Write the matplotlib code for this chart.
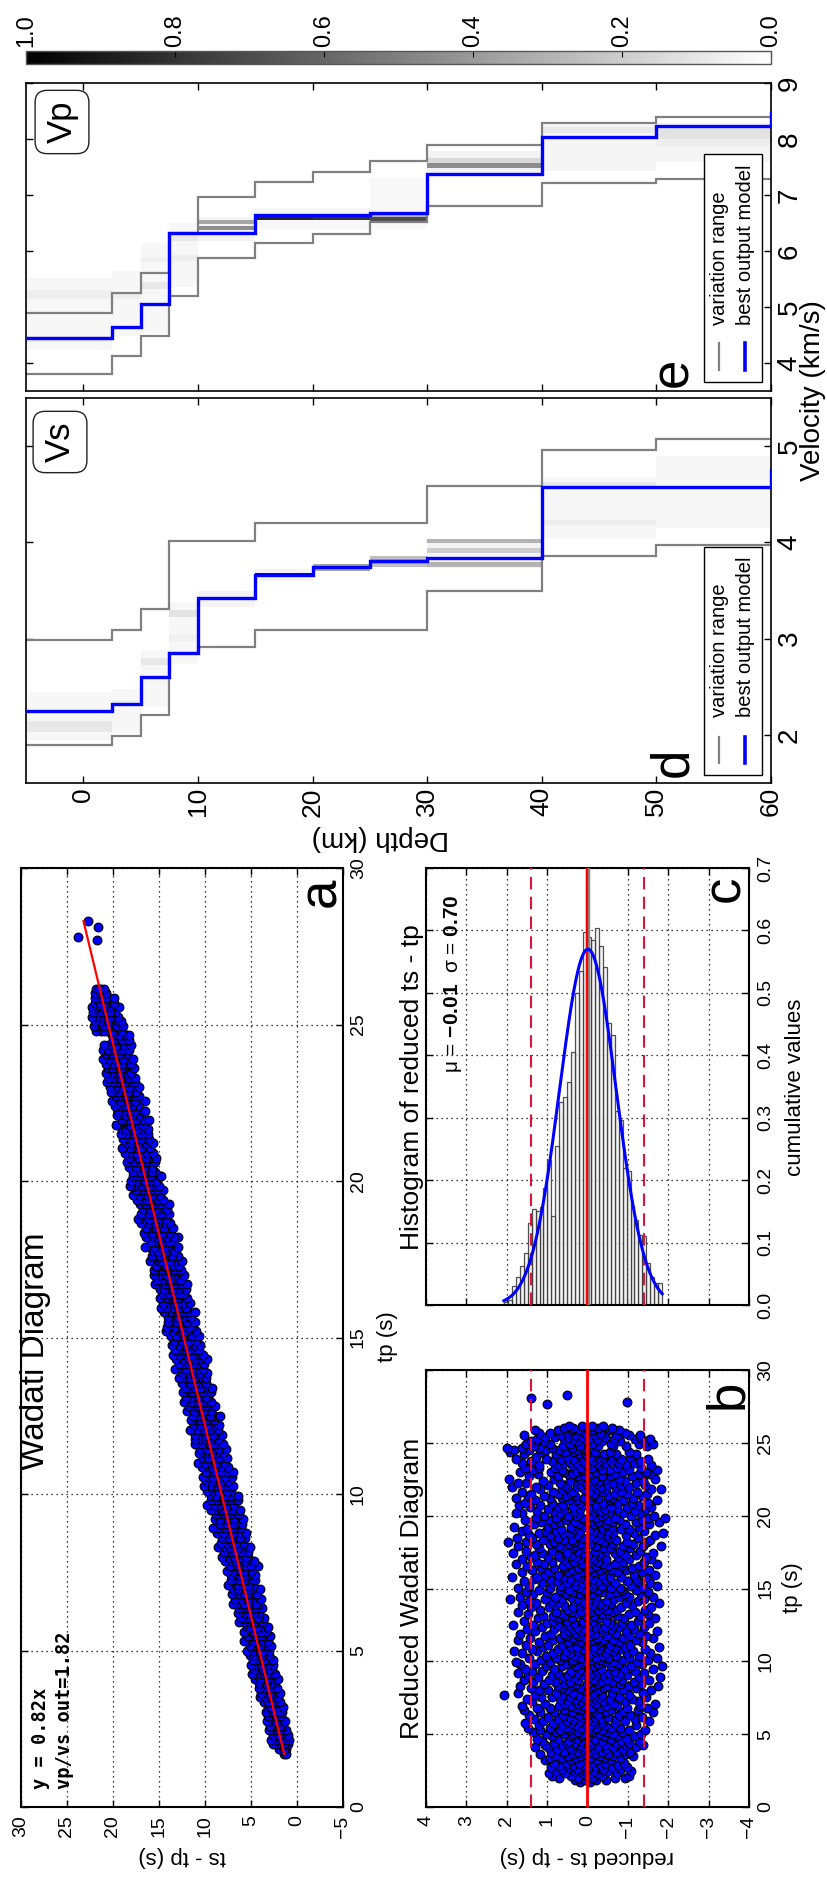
import numpy as np
import matplotlib
matplotlib.use("Agg")
import matplotlib.pyplot as plt
from matplotlib.colors import Normalize
from matplotlib.cm import ScalarMappable
from matplotlib.patches import Rectangle
from matplotlib.lines import Line2D

plt.rcParams['font.family'] = ['Liberation Sans', 'DejaVu Sans']
plt.rcParams['mathtext.fontset'] = 'custom'
plt.rcParams['mathtext.rm'] = 'Liberation Sans'
plt.rcParams['mathtext.bf'] = 'Liberation Sans:bold'

# ------------------------------------------------------------------ data
SLOPE = 0.82
VPVS = 1.82
MU, SIGMA = -0.01, 0.70

# (tp, reduced ts-tp values observed at that tp)
wadati_rows = [
    (1.70, [-0.05, 0.18]),
    (1.85, [0.32, -0.22, -0.46, 0.05]),
    (2.00, [0.71, -0.12, 0.24, -0.68, -0.93]),
    (2.15, [0.88, 0.41, -0.35, 0.02, -1.02]),
    (2.30, [0.12, 0.55, -0.27, -0.74, 0.96, -0.08]),
    (2.45, [-0.51, 0.33, 0.78, -0.15, -1.08, 0.07]),
    (2.60, [0.62, 0.04, -0.39, -0.83, 0.27]),
    (2.75, [-0.19, 0.45, -0.61, 0.91, -0.02, -0.97]),
    (2.90, [0.36, -0.33, 0.09, -0.76, 0.68]),
    (3.05, [-0.44, 0.21, 0.83, -0.11, -0.91, 0.52]),
    (3.20, [0.02, -0.58, 0.41, -0.24, 1.05]),
    (3.35, [0.64, -0.07, -0.83, 0.28, -0.42, 0.93]),
    (3.50, [-0.31, 0.17, -1.12, 0.49, 0.81, -0.64]),
    (3.65, [0.35, -0.18, 1.18, -0.52, 0.06, -0.95]),
    (3.80, [-0.73, 0.58, -0.03, 0.24, -0.36, 0.91, -1.05]),
    (3.95, [0.12, -0.47, 0.76, -0.88, 0.39, -0.16]),
    (4.10, [0.97, -0.25, 0.43, -1.21, 0.08, -0.62, 1.31]),
    (4.25, [-0.09, 0.62, -0.44, 0.19, -0.95, 1.06, -1.38]),
    (4.40, [0.31, -0.71, 0.84, -0.12, 0.52, -1.04]),
    (4.55, [-0.36, 0.15, 1.12, -0.83, 0.47, -0.05, -1.28]),
    (4.70, [0.73, -0.19, -0.58, 0.26, 1.25, -0.97]),
    (4.85, [-0.02, 0.41, -1.16, 0.88, -0.41, 0.14, -0.73]),
    (5.00, [0.59, -0.29, 1.03, -0.64, 0.11, -1.33, 0.36]),
    (5.15, [-0.12, 0.78, -0.49, 0.24, -0.86, 1.36]),
    (5.30, [0.45, -0.07, -1.02, 0.67, -0.35, 1.18, -1.42]),
    (5.45, [-0.58, 0.16, 0.94, -0.21, 0.51, -0.81, 1.48]),
    (5.60, [0.29, -0.44, 1.21, -0.09, -1.19, 0.63]),
    (5.75, [-0.26, 0.85, 0.07, -0.68, 1.55, -0.37, 0.41]),
    (5.90, [0.51, -0.94, -0.15, 1.09, 0.19, -1.52]),
    (6.05, [-0.33, 0.36, -0.71, 1.32, -0.02, 0.74, -1.18]),
    (6.20, [0.13, -0.52, 0.98, -1.36, 0.46, -0.18]),
    (6.35, [-0.78, 1.44, 0.22, -0.27, 0.61, -1.05, 0.01]),
    (6.50, [0.39, -0.13, -0.89, 1.17, -0.46, 0.83, -1.62]),
    (6.65, [-0.06, 0.57, -0.58, 1.58, 0.18, -1.24]),
    (6.80, [0.92, -0.31, 0.27, -0.97, -0.10, 1.26, -1.47]),
    (6.95, [-0.45, 0.08, 0.71, -1.31, 0.42, -0.74, 1.63]),
    (7.10, [0.24, -0.21, 1.05, -0.63, -1.68, 0.55]),
    (7.25, [-0.12, 0.48, -0.94, 0.16, 1.37, -0.39, -1.26]),
    (7.40, [0.67, -0.56, 0.03, 1.51, -1.09, 0.31, -0.22]),
    (7.55, [-0.29, 0.87, -0.77, 0.12, -1.45, 1.14, 0.44]),
    (7.70, [2.08, 0.21, -0.36, 0.62, -1.02, -0.05, 1.29]),
    (7.85, [-0.61, 0.35, 1.72, -0.16, -1.38, 0.78]),
    (8.00, [0.09, -0.87, 0.51, -0.28, 1.19, -1.57, 0.97]),
    (8.15, [-0.42, 1.41, 0.18, -0.69, 0.63, -1.21, -0.05]),
    (8.30, [0.74, -0.14, -1.03, 0.36, 1.66, -0.49, -1.74]),
    (8.45, [-0.25, 0.55, 1.08, -0.81, 0.02, -1.33, 0.28]),
    (8.60, [0.43, -0.60, 1.35, -0.07, -1.14, 0.81, -0.33]),
    (8.75, [-0.17, 0.96, -0.48, 0.24, -1.52, 1.58, -0.86]),
    (8.90, [0.61, -0.02, -0.74, 1.23, -1.27, 0.33, -1.79]),
    (9.05, [-0.38, 0.14, 0.88, -0.99, 1.47, -0.21, 0.49]),
    (9.20, [0.27, -0.53, 1.71, -0.11, -1.41, 0.72, -0.80]),
    (9.35, [-0.66, 0.41, -0.23, 1.12, 0.05, -1.18, 1.38]),
    (9.50, [0.19, -0.93, 0.83, -0.34, 1.55, -1.61, -0.04]),
    (9.65, [-0.15, 0.64, -0.58, 0.28, -1.07, 1.02, -1.84]),
    (9.80, [0.52, -0.27, 1.29, -0.76, 0.11, -1.36, 1.66]),
    (9.95, [-0.44, 0.06, 0.93, -1.22, 0.38, -0.63, 1.78]),
    (10.10, [0.35, -0.12, -0.88, 1.16, -1.49, 0.69, -0.31]),
    (10.25, [-0.21, 0.79, -0.52, 0.17, 1.44, -1.03, -1.71]),
    (10.40, [0.58, -0.39, 1.03, -0.02, -1.28, 0.31, -0.71]),
    (10.55, [-0.08, 0.44, -0.97, 1.62, -0.46, 0.86, -1.56]),
    (10.70, [0.23, -0.64, 1.25, -0.19, -1.13, 0.54, 1.81]),
    (10.85, [-0.51, 0.12, 0.73, -0.83, 1.38, -0.29, -1.42]),
    (11.00, [0.41, -0.15, -0.68, 1.09, -1.77, 0.26, -0.94]),
    (11.15, [-0.33, 0.97, 0.04, -1.06, 1.53, -0.56, 0.63]),
    (11.30, [0.16, -0.79, 1.21, -0.37, 0.48, -1.34, -0.01]),
    (11.45, [-0.62, 0.32, -0.13, 0.86, -1.19, 1.71, -0.41]),
    (11.60, [0.69, -0.24, 1.42, -0.87, 0.07, -1.61, 0.37]),
    (11.75, [-0.06, 0.53, -0.49, 1.06, -1.02, 0.21, -1.45]),
    (11.90, [0.28, -0.71, 0.91, -0.18, 1.66, -1.28, 0.58]),
    (12.05, [-0.42, 0.17, -0.95, 1.29, 0.45, -0.07, -1.72]),
    (12.20, [0.82, -0.33, 0.09, -1.15, 1.51, -0.58, 0.35]),
    (12.35, [-0.19, 0.62, -0.77, 0.26, -1.39, 1.12, -0.44]),
    (12.50, [0.47, -0.03, 1.36, -0.62, 0.74, -1.08, 1.84]),
    (12.65, [-0.55, 0.33, -0.21, 1.01, -1.53, 0.14, -0.86]),
    (12.80, [0.11, -0.47, 0.86, -1.24, 1.58, -0.14, 0.51]),
    (12.95, [-0.28, 0.71, -0.91, 0.38, 1.23, -1.66, -0.02]),
    (13.10, [0.59, -0.16, 1.11, -0.73, 0.04, -1.31, 0.85]),
    (13.25, [-0.37, 0.24, -1.04, 1.47, -0.53, 0.66, -1.49]),
    (13.40, [0.15, -0.62, 0.79, -0.09, 1.73, -1.17, 0.42]),
    (13.55, [-0.74, 0.48, -0.26, 1.18, 0.02, -1.42, -0.48]),
    (13.70, [0.36, -0.08, -0.84, 0.95, -1.58, 1.39, -0.35]),
    (13.85, [-0.13, 0.57, -0.43, 0.19, -1.11, 1.61, 0.81]),
    (14.00, [0.72, -0.31, 1.27, -0.96, 0.09, -1.76, -0.57]),
    (14.15, [-0.49, 0.13, 0.88, -0.18, 1.45, -1.25, 0.34]),
    (14.30, [0.27, -0.66, -0.03, 1.06, -1.41, 0.62, 1.93]),
    (14.45, [-0.22, 0.81, -0.79, 0.41, 1.67, -1.03, -1.62]),
    (14.60, [0.54, -0.11, -0.54, 1.34, -0.93, 0.18, -1.33]),
    (14.75, [-0.35, 0.39, 1.01, -0.72, 0.03, -1.51, 1.52]),
    (14.90, [0.08, -0.86, 0.68, -0.25, 1.19, -1.19, 0.46]),
    (15.05, [-0.58, 0.22, -0.12, 0.93, -1.38, 1.71, -0.81]),
    (15.20, [0.65, -0.37, 1.46, -0.03, -1.07, 0.31, -1.73]),
    (15.35, [-0.16, 0.51, -0.69, 1.13, 0.14, -1.55, 0.87]),
    (15.50, [0.32, -0.26, -0.98, 0.76, 1.58, -0.47, -1.26]),
    (15.65, [-0.44, 0.94, 0.05, -1.21, 0.43, -0.13, 1.33]),
    (15.80, [0.18, -0.55, 1.24, -0.82, 0.61, -1.46, 1.87]),
    (15.95, [-0.07, 0.73, -0.36, 0.27, -1.16, 1.05, -1.68]),
    (16.10, [0.49, -0.74, 0.96, -0.17, 1.62, -1.34, 0.12]),
    (16.25, [-0.31, 0.36, -0.59, 1.37, -0.95, 0.02, -1.52]),
    (16.40, [0.83, -0.09, 0.23, -1.09, 1.16, -0.43, 0.58]),
    (16.55, [-0.52, 0.61, -0.21, 1.49, 0.08, -1.28, -0.86]),
    (16.70, [0.14, -0.38, 1.08, -0.67, 0.45, -1.71, 1.76]),
    (16.85, [-0.26, 0.87, -0.88, 0.34, -0.04, 1.25, -1.39]),
    (17.00, [0.57, -0.45, 1.63, -1.02, 0.19, -0.16, -1.58]),
    (17.15, [-0.11, 0.29, -0.76, 0.99, -1.44, 0.68, 1.41]),
    (17.30, [0.38, -0.92, 0.74, -0.28, 1.31, -1.19, -0.01]),
    (17.45, [-0.67, 0.11, -0.34, 1.12, 0.52, -1.63, 1.84]),
    (17.60, [0.25, -0.19, 1.53, -0.81, 0.89, -1.31, -0.47]),
    (17.75, [-0.39, 0.66, -1.06, 0.07, 1.19, -0.58, 0.37]),
    (17.90, [0.71, -0.22, 0.31, -1.37, 1.71, -0.89, -1.81]),
    (18.05, [-0.05, 0.46, -0.63, 1.28, -1.12, 0.16, 0.93]),
    (18.20, [1.98, 0.33, -0.41, 0.84, -0.97, 1.52, -1.47]),
    (18.35, [-0.29, 0.58, 0.02, -0.71, 1.09, -1.56, 0.39]),
    (18.50, [0.12, -0.53, 1.37, -0.18, 0.72, -1.24, 1.74]),
    (18.65, [-0.48, 0.93, -0.95, 0.23, -0.12, 1.45, -1.68]),
    (18.80, [0.44, -0.31, 0.61, -1.16, 1.21, -0.64, -1.86]),
    (18.95, [-0.17, 0.18, 1.04, -0.52, -1.41, 0.79, 1.63]),
    (19.10, [0.66, -0.84, -0.06, 1.49, -1.03, 0.35, -0.37]),
    (19.25, [-0.35, 0.42, -1.27, 0.97, 0.09, -0.61, 1.82]),
    (19.40, [0.21, -0.15, 0.83, -0.92, 1.32, -1.53, -0.45]),
    (19.55, [-0.62, 0.68, -0.27, 1.14, 0.31, -1.19, -1.77]),
    (19.70, [0.05, -0.49, 1.56, -0.79, 0.54, -1.35, 0.96]),
    (19.85, [-0.21, 0.77, -0.68, 0.14, -1.49, 1.27, -1.92]),
    (20.00, [0.48, -0.36, 1.07, -1.08, 0.26, -0.09, -1.64]),
    (20.15, [-0.44, 0.22, -0.87, 1.61, 0.67, -1.29, 1.78]),
    (20.30, [0.34, -0.13, 1.25, -0.56, -1.17, 0.85, -0.33]),
    (20.45, [-0.09, 0.57, -0.43, 0.99, -1.44, 0.18, -0.74]),
    (20.60, [0.73, -0.58, 0.36, -0.97, 1.43, -1.58, -0.04]),
    (20.75, [-0.31, 0.12, 1.18, -0.21, -1.26, 0.61, 1.69]),
    (20.90, [0.19, -0.76, 0.88, -0.39, 1.54, -1.09, -1.51]),
    (21.05, [-0.56, 0.45, -0.06, 1.31, -0.89, 0.26, -1.72]),
    (21.20, [0.62, -0.27, -1.13, 0.94, 0.08, 1.76, -0.61]),
    (21.35, [-0.14, 0.31, -0.52, 1.08, -1.36, 0.53, 1.47]),
    (21.50, [0.41, -0.67, 1.39, -0.17, -0.98, 0.72, -1.48]),
    (21.65, [-0.38, 0.86, -0.04, -1.22, 0.35, 1.61, -0.83]),
    (21.80, [0.09, -0.45, 0.63, -1.57, 1.17, -0.23, -1.83]),
    (21.95, [-0.71, 0.27, 1.28, -0.33, 0.51, -1.04, 1.88]),
    (22.10, [0.55, -0.11, -0.82, 0.98, -1.43, 0.16, -0.52]),
    (22.25, [-0.24, 0.67, 0.03, -0.64, 1.52, -1.19, 1.72]),
    (22.40, [0.31, -0.93, 1.11, -0.29, 0.44, -1.37, -0.06]),
    (22.55, [-0.46, 0.19, -0.15, 0.83, 1.94, -0.78, -1.66]),
    (22.70, [0.74, -0.35, 1.46, -1.11, 0.23, -0.57, 0.05]),
    (22.85, [-0.08, 0.48, -0.69, 1.23, -1.28, 0.36, -1.52]),
    (23.00, [0.27, -0.21, 0.91, -0.89, 1.68, -1.45, 0.59]),
    (23.15, [-0.53, 0.62, -0.37, 0.13, 1.34, -1.02, -1.71]),
    (23.30, [0.16, -0.74, 1.19, -0.12, -1.33, 0.81, 1.54]),
    (23.45, [-0.29, 0.39, -0.96, 0.71, 0.01, -1.57, 1.21]),
    (23.60, [0.58, -0.47, 1.62, -0.24, -1.14, 0.28, -0.78]),
    (23.75, [-0.13, 0.88, -0.58, 0.11, 1.39, -1.29, 0.45]),
    (23.90, [0.37, -0.31, 1.03, -0.84, -1.49, 0.66, 1.77]),
    (24.05, [-0.61, 0.14, -0.09, 1.27, -1.06, 0.52, -0.38]),
    (24.20, [0.22, -0.42, 0.79, -1.21, 1.58, -0.71, 0.03]),
    (24.35, [-0.19, 0.56, 1.16, -0.55, -1.02, 0.33, 1.92]),
    (24.50, [0.71, 0.25, 1.45, 0.04, 1.02, 1.81]),
    (24.65, [0.38, 1.19, 0.12, 1.63, 2.00, 0.87]),
    (24.80, [-0.27, 0.61, -0.95, 1.33, 0.18, -1.48, -0.63]),
    (24.95, [0.44, -0.12, 0.93, -1.27, -0.57, 1.52, -1.63]),
    (25.10, [-0.36, 0.27, -0.81, 1.08, 0.02, -1.42, 1.41]),
    (25.25, [0.57, -0.23, 1.24, -0.66, 0.36, -1.17, -1.56]),
    (25.40, [-0.05, 0.81, -0.44, 0.13, -1.31, 1.06, 0.49]),
    (25.55, [0.31, -0.73, 0.66, -0.18, 1.58, -1.02, -1.29]),
    (25.70, [-0.42, 0.48, 0.05, -0.93, 0.92, -0.31, 1.19]),
    (25.85, [0.21, -0.56, 0.74, -0.12, -0.79, 0.39, 1.30]),
    (26.00, [-0.27, 0.35, 0.02, -0.61, 0.58]),
    (26.15, [0.13, -0.38, 0.47, -0.12]),
    (27.70, [1.01]),
    (27.80, [-0.99]),
    (28.10, [1.41]),
    (28.30, [0.50]),
]

# histogram of reduced ts - tp (bar heights, ascending residual)
hist_lo, hist_hi = -1.85, 2.07
hist_heights = [0.035, 0.035, 0.045, 0.068, 0.110, 0.112, 0.136, 0.158, 0.214, 0.219,
                0.297, 0.310, 0.433, 0.452, 0.542, 0.575, 0.604, 0.585, 0.590, 0.598,
                0.535, 0.500, 0.406, 0.357, 0.333, 0.325, 0.255, 0.142, 0.233, 0.187,
                0.157, 0.151, 0.153, 0.132, 0.083, 0.063, 0.045, 0.030, 0.008, 0.005]

# velocity models
depth_edges = [-5, 2.5, 5, 7.5, 10, 15, 20, 25, 30, 40, 50, 60]
vp_best = [4.45, 4.64, 5.05, 6.32, 6.32, 6.64, 6.64, 6.67, 7.38, 8.04, 8.23]
vp_min = [3.80, 4.13, 4.48, 5.20, 5.88, 6.14, 6.30, 6.51, 6.80, 7.21, 7.28]
vp_max = [4.89, 5.25, 5.61, 6.32, 6.97, 7.23, 7.41, 7.61, 7.89, 8.29, 8.39]
vp_half = 8.46
vs_best = [2.25, 2.32, 2.60, 2.85, 3.42, 3.66, 3.74, 3.81, 3.84, 4.58, 4.58]
vs_min = [1.89, 1.99, 2.21, 2.85, 2.91, 3.09, 3.09, 3.09, 3.49, 3.86, 3.97]
vs_max = [2.99, 3.09, 3.31, 4.01, 4.01, 4.20, 4.20, 4.20, 4.59, 4.96, 5.07]
vs_half = 4.75

# sampled-model density bands: (layer, v_low, v_high, frequency)
vp_density = [
    (0, 4.23, 5.52, 0.035), (0, 5.15, 5.30, 0.07), (0, 4.38, 4.48, 0.08),
    (1, 4.48, 5.64, 0.035), (1, 5.15, 5.25, 0.07),
    (2, 4.53, 6.14, 0.035), (2, 5.33, 5.44, 0.09), (2, 5.80, 5.90, 0.06),
    (3, 5.36, 6.50, 0.035), (3, 6.17, 6.28, 0.09), (3, 5.82, 5.93, 0.07),
    (4, 6.17, 6.60, 0.05), (4, 6.48, 6.56, 0.35), (4, 6.37, 6.45, 0.45),
    (5, 6.39, 6.76, 0.035), (5, 6.55, 6.60, 0.85),
    (6, 6.39, 6.76, 0.035), (6, 6.55, 6.60, 0.80),
    (7, 6.39, 7.30, 0.03), (7, 6.60, 6.68, 0.30), (7, 6.53, 6.60, 0.70),
    (8, 7.39, 7.78, 0.05), (8, 7.58, 7.66, 0.15), (8, 7.48, 7.58, 0.45),
    (9, 7.42, 8.25, 0.04), (9, 8.10, 8.22, 0.09),
    (10, 7.59, 8.28, 0.04), (10, 8.00, 8.23, 0.11), (10, 7.88, 8.00, 0.07),
]
vs_density = [
    (0, 1.95, 2.45, 0.035), (0, 2.03, 2.14, 0.09),
    (1, 2.02, 2.48, 0.035), (1, 2.31, 2.36, 0.07),
    (2, 2.29, 2.88, 0.035), (2, 2.73, 2.80, 0.09),
    (3, 2.74, 3.38, 0.035), (3, 3.22, 3.30, 0.11), (3, 2.98, 3.05, 0.06),
    (4, 3.33, 3.49, 0.045),
    (5, 3.60, 3.72, 0.05), (5, 3.64, 3.68, 0.90),
    (6, 3.70, 3.78, 0.35),
    (7, 3.74, 3.86, 0.25), (7, 3.78, 3.83, 0.35),
    (8, 3.73, 4.04, 0.05), (8, 3.99, 4.04, 0.30), (8, 3.89, 3.94, 0.20), (8, 3.74, 3.80, 0.30),
    (9, 4.04, 4.68, 0.035), (9, 4.58, 4.63, 0.09), (9, 4.18, 4.23, 0.07),
    (10, 4.15, 4.90, 0.035),
]

# ------------------------------------------------------------------ figure
W, H = 828, 1878
fig = plt.figure(figsize=(W / 100, H / 100), dpi=100)


def add_ax(x0, y0, x1, y1):
    return fig.add_axes([x0 / W, 1 - y1 / H, (x1 - x0) / W, (y1 - y0) / H])


def ftext(x, y, s, **kw):
    kw.setdefault('rotation_mode', 'anchor')
    return fig.text(x / W, 1 - y / H, s, **kw)


def style(ax, grid=True, lsize=14, spine_lw=1.5):
    ax.tick_params(direction='in', length=5, width=1, top=True, bottom=True,
                   left=True, right=True, labelleft=False, labeltop=False,
                   labelsize=lsize)
    for s in ax.spines.values():
        s.set_linewidth(spine_lw)
    if grid:
        ax.grid(True, color='k', linestyle=(0, (1, 3)), linewidth=0.9)
    ax.set_axisbelow(True)


def rot_labels(ax, xpad, ypad, xlab=True, ylab=True):
    ax.tick_params(axis='x', labelrotation=90, pad=xpad, labelbottom=xlab)
    ax.tick_params(axis='y', labelrotation=90, pad=ypad, labelright=ylab)
    for lb in ax.get_yticklabels():
        lb.set_va('center')
        lb.set_ha('left')


tp = np.concatenate([[t] * len(r) for t, r in wadati_rows])
resid = np.concatenate([np.array(r, float) for t, r in wadati_rows])

# ---------------- panel a : Wadati diagram
axA = add_ax(21, 868, 343, 1807)
style(axA)
axA.scatter(SLOPE * tp - resid, tp, s=40, c='#0000ff', edgecolors='k',
            linewidths=0.8, zorder=3)
tfit = np.array([tp.min(), tp.max()])
axA.plot(SLOPE * tfit, tfit, color='red', lw=1.6, zorder=4)
axA.set_xlim(30, -5)
axA.set_ylim(0, 30)
axA.set_xticks(range(-5, 31, 5))
axA.set_yticks(range(0, 31, 5))
rot_labels(axA, 6, 5)

ftext(44, 1351, 'Wadati Diagram', rotation=90, ha='center', va='baseline', fontsize=24)
ftext(46, 1789, 'y = %.2fx' % SLOPE, rotation=90, ha='left', va='baseline',
      fontsize=13.5, family='DejaVu Sans Mono', weight='bold')
ftext(70, 1789, 'vp/vs out=%.2f' % VPVS, rotation=90, ha='left', va='baseline',
      fontsize=13.5, family='DejaVu Sans Mono', weight='bold')
ftext(393, 1337, 'tp (s)', rotation=90, ha='center', va='baseline', fontsize=16)
ftext(182, 1851, 'ts - tp (s)', rotation=180, ha='center', va='baseline', fontsize=16)
ftext(335, 878, 'a', rotation=90, ha='right', va='baseline', fontsize=38)

# ---------------- panel b : reduced Wadati diagram
axB = add_ax(426, 1370, 749, 1807)
style(axB)
axB.scatter(resid, tp, s=40, c='#0000ff', edgecolors='k', linewidths=0.8, zorder=3)
axB.axvline(0, color='red', lw=2, zorder=4)
for v in (-2 * SIGMA, 2 * SIGMA):
    axB.axvline(v, color='#dc143c', lw=1.5, linestyle=(0, (6, 3.5)), zorder=4)
axB.set_xlim(4, -4)
axB.set_ylim(0, 30)
axB.set_xticks(range(-4, 5))
axB.set_yticks(range(0, 31, 5))
rot_labels(axB, 6, 6)
ftext(419, 1588, 'Reduced Wadati Diagram', rotation=90, ha='center', va='baseline', fontsize=19)
ftext(798, 1588, 'tp (s)', rotation=90, ha='center', va='baseline', fontsize=16)
ftext(587, 1851, 'reduced ts - tp (s)', rotation=180, ha='center', va='baseline', fontsize=16)
ftext(742, 1380, 'b', rotation=90, ha='right', va='baseline', fontsize=38)

# ---------------- panel c : histogram
axC = add_ax(426, 868, 749, 1305)
style(axC)
nb = len(hist_heights)
edges = np.linspace(hist_lo, hist_hi, nb + 1)
axC.bar(edges[:-1], hist_heights, width=np.diff(edges), align='edge',
        facecolor='#f0f0f0', edgecolor='#333333', linewidth=0.9, alpha=0.85, zorder=2)
xs = np.linspace(hist_lo, hist_hi, 300)
pdf = np.exp(-0.5 * ((xs - MU) / SIGMA) ** 2) / (SIGMA * np.sqrt(2 * np.pi))
axC.plot(xs, pdf, color='#0000ff', lw=2.2, zorder=5)
axC.axvline(MU, color='#888888', lw=3.2, zorder=3)
axC.axvline(0, color='red', lw=1.6, zorder=4)
for v in (-2 * SIGMA, 2 * SIGMA):
    axC.axvline(v, color='#dc143c', lw=1.5, linestyle=(0, (6, 3.5)), zorder=4)
axC.set_xlim(4, -4)
axC.set_ylim(0, 0.7)
axC.set_xticks(range(-4, 5))
axC.set_yticks(np.arange(0, 0.71, 0.1))
axC.yaxis.set_major_formatter(matplotlib.ticker.FormatStrFormatter('%.1f'))
rot_labels(axC, 6, 6, xlab=False)
ftext(419, 1087, 'Histogram of reduced ts - tp', rotation=90, ha='center', va='baseline', fontsize=19)
ftext(801, 1087, 'cumulative values', rotation=90, ha='center', va='baseline', fontsize=16)
ftext(458, 1073, 'μ = $\\mathbf{%.2f}$  σ = $\\mathbf{%.2f}$' % (MU, SIGMA), rotation=90,
      ha='left', va='baseline', fontsize=15)
ftext(739, 876, 'c', rotation=90, ha='right', va='baseline', fontsize=38)

# ---------------- panels d / e : velocity models
cmap = plt.get_cmap('gray_r')


def model_panel(ax, best, vmin_, vmax_, half, dens, ylim, yticks, xlab):
    style(ax, grid=False, lsize=20, spine_lw=1.2)
    for layer, lo, hi, val in dens:
        d0, d1 = depth_edges[layer], depth_edges[layer + 1]
        ax.bar(d0, hi - lo, width=d1 - d0, bottom=lo, align='edge',
               color=cmap(val), linewidth=0, zorder=1)
    ax.stairs(vmin_, depth_edges, baseline=None, color='#808080', lw=1.6, zorder=2)
    ax.stairs(vmax_, depth_edges, baseline=None, color='#808080', lw=1.6, zorder=2)
    ax.stairs(best, depth_edges, baseline=None, color='#0000ff', lw=2.4, zorder=3)
    ax.plot([depth_edges[-1]] * 2, [best[-1], half], color='#0000ff', lw=2.4, zorder=3)
    ax.set_xlim(-5, 60)
    ax.set_ylim(*ylim)
    ax.set_xticks(range(0, 61, 10))
    ax.set_yticks(yticks)
    ax.tick_params(labelsize=19, axis='x')
    rot_labels(ax, 3, 4, xlab=xlab)


axE = add_ax(26, 83, 771, 391)
model_panel(axE, vp_best, vp_min, vp_max, vp_half, vp_density, (3.5, 9), range(4, 10), False)
axD = add_ax(26, 398, 771, 783)
model_panel(axD, vs_best, vs_min, vs_max, vs_half, vs_density, (1.5, 5.5), range(2, 6), True)

ftext(380, 831, 'Depth (km)', rotation=180, ha='center', va='baseline', fontsize=20)
ftext(820, 391, 'Velocity (km/s)', rotation=90, ha='center', va='baseline', fontsize=20)
ftext(687, 748, 'd', rotation=90, ha='right', va='baseline', fontsize=38)
ftext(687, 358, 'e', rotation=90, ha='right', va='baseline', fontsize=38)

boxkw = dict(boxstyle='round,pad=0.3,rounding_size=0.35', fc='white', ec='#222222', lw=1)
ftext(62, 122, 'Vp', rotation=90, ha='center', va='center', fontsize=25, bbox=boxkw)
ftext(60, 442, 'Vs', rotation=90, ha='center', va='center', fontsize=25, bbox=boxkw)


def manual_legend(x0, y0, x1, y1, sample_y0, sample_y1, text_y):
    fig.add_artist(Rectangle((x0 / W, 1 - y1 / H), (x1 - x0) / W, (y1 - y0) / H,
                             transform=fig.transFigure, fc='white', ec='k', lw=1, zorder=5))
    for xx, col, lw, lab, base in [(719, '#808080', 1.6, 'variation range', 725),
                                   (745, '#0000ff', 2.6, 'best output model', 751)]:
        fig.add_artist(Line2D([xx / W, xx / W], [1 - sample_y0 / H, 1 - sample_y1 / H],
                              transform=fig.transFigure, color=col, lw=lw, zorder=6))
        ftext(base, text_y, lab, rotation=90, ha='left', va='baseline', fontsize=14.5, zorder=6)


manual_legend(704, 154, 762, 382, 343, 370, 325)
manual_legend(704, 547, 762, 775, 737, 763, 717)

# ---------------- colorbar
cax = add_ax(26, 51, 771, 64)
sm = ScalarMappable(norm=Normalize(0, 1), cmap='gray_r')
cb = fig.colorbar(sm, cax=cax, orientation='horizontal', ticklocation='top')
cax.invert_xaxis()
cb.set_ticks([0, 0.2, 0.4, 0.6, 0.8, 1.0])
cb.ax.xaxis.set_major_formatter(matplotlib.ticker.FormatStrFormatter('%.1f'))
cb.ax.tick_params(axis='x', direction='in', length=4, labelsize=17, labelrotation=90, pad=3)
cb.outline.set_edgecolor('#555555')
cb.outline.set_linewidth(1)

fig.savefig('out.png', dpi=100)
